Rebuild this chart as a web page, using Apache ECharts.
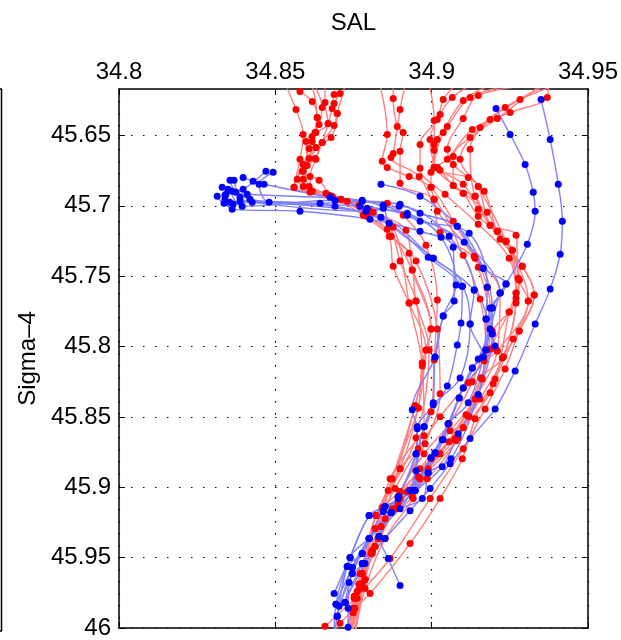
<!DOCTYPE html>
<html><head><meta charset="utf-8">
<script src="https://cdn.jsdelivr.net/npm/echarts@6/dist/echarts.min.js"></script>
<style>html,body{margin:0;padding:0;background:#fff}#c{width:621px;height:640px}</style>
</head><body><div id="c"></div>
<script>
const salTicks = [34.8, 34.85, 34.9, 34.95];
const sigTicks = [45.65, 45.7, 45.75, 45.8, 45.85, 45.9, 45.95, 46];

const redSal = [
 [34.8538,34.8566,34.8589,34.8579,34.856,34.8662,34.8771,34.8864,34.8899,34.895,34.897,34.8947,34.8874,34.8806,34.8749,34.8723],
 [34.8579,34.8618,34.8634,34.8608,34.8589,34.8589,34.871,34.8813,34.8918,34.8938,34.8998,34.8982,34.8957,34.8861,34.8787,34.8739],
 [34.863,34.865,34.864,34.8618,34.8608,34.857,34.8672,34.8781,34.887,34.8928,34.895,34.8992,34.895,34.8842,34.8778,34.8755],
 [34.8659,34.8659,34.8669,34.863,34.8598,34.8602,34.8589,34.8682,34.879,34.8877,34.8928,34.897,34.8976,34.8899,34.8822,34.8768,34.8746],
 [34.8688,34.8682,34.8698,34.8678,34.863,34.8595,34.8608,34.873,34.8858,34.8909,34.8982,34.9018,34.9008,34.8998,34.8867,34.8819,34.8762,34.8749],
 [34.8707,34.8688,34.8669,34.865,34.8627,34.8586,34.864,34.8691,34.8803,34.887,34.895,34.9018,34.9027,34.8979,34.8899,34.881,34.8752,34.8733],
 [34.8723,34.8698,34.8688,34.865,34.863,34.8611,34.8618,34.871,34.879,34.8864,34.8877,34.8928,34.8982,34.8947,34.8838,34.8778,34.8749,34.8726],
 [34.8618,34.8634,34.8627,34.8618,34.863,34.8589,34.856,34.8611,34.8768,34.8794,34.8858,34.8938,34.8998,34.897,34.8957,34.8899,34.8822,34.8768,34.8755,34.8739],
 [34.8835,34.8858,34.8842,34.8858,34.8928,34.8998,34.9069,34.9149,34.9187,34.9162,34.9101,34.8998,34.8899,34.8822,34.8768,34.8723],
 [34.8877,34.8877,34.889,34.8909,34.8899,34.8899,34.9008,34.9101,34.9155,34.9174,34.912,34.9034,34.8938,34.8838,34.8778,34.8739],
 [34.8915,34.8899,34.8877,34.887,34.896,34.9018,34.9136,34.9178,34.9194,34.9158,34.9085,34.8986,34.8899,34.8829,34.8771,34.8746],
 [34.8995,34.9008,34.9008,34.9008,34.8998,34.8998,34.9008,34.9027,34.9139,34.9219,34.921,34.9139,34.9056,34.8957,34.8851,34.8787,34.8755],
 [34.9178,34.9101,34.9037,34.9008,34.9027,34.9069,34.9101,34.9178,34.921,34.9238,34.928,34.9248,34.9197,34.911,34.9027,34.8922,34.8819,34.8762,34.8733],
 [34.9251,34.9123,34.905,34.9018,34.9008,34.9117,34.9149,34.9187,34.9258,34.927,34.9229,34.9158,34.9078,34.8963,34.8883,34.881,34.8749,34.8723],
 [34.9315,34.9149,34.9101,34.905,34.9069,34.9168,34.921,34.929,34.9328,34.928,34.9226,34.9187,34.9101,34.9018,34.8941,34.8851,34.8787,34.8755],
 [34.9347,34.921,34.9123,34.9069,34.9069,34.9139,34.9187,34.927,34.9277,34.9309,34.921,34.9168,34.9117,34.9027,34.8957,34.8883,34.8819,34.8771,34.8723],
 [34.9373,34.937,34.9251,34.913,34.905,34.9018,34.9101,34.9149,34.9238,34.927,34.9248,34.9187,34.9139,34.9059,34.8963,34.8874,34.881,34.8752,34.8739],
 [34.9075,34.9037,34.9018,34.8963,34.8963,34.9043,34.9149,34.9248,34.927,34.9229,34.9155,34.9075,34.8989,34.8893,34.8835,34.8778,34.8746],
 [34.9123,34.9066,34.9027,34.8995,34.9018,34.9101,34.9149,34.921,34.9258,34.928,34.927,34.9194,34.913,34.9056,34.8976,34.8899,34.881,34.8762,34.8739],
 [34.9395,34.9283,34.9187,34.9123,34.9139,34.9219,34.929,34.9328,34.928,34.9235,34.9171,34.9101,34.8995,34.8867,34.8755,34.8659,34.8637],
 [34.9363,34.9235,34.9155,34.9091,34.9149,34.9238,34.9309,34.9261,34.9203,34.9139,34.9098,34.9027,34.8931,34.8803,34.8707,34.8682]
];
const redSig = [
 [45.6167,45.6316,45.6493,45.667,45.6869,45.6911,45.7003,45.7145,45.7393,45.7677,45.8117,45.8421,45.8939,45.9471,45.9889,46.0045],
 [45.6188,45.6259,45.6372,45.6592,45.6755,45.6862,45.6954,45.7046,45.7174,45.7457,45.7875,45.8024,45.8436,45.9023,45.9655,46.0045],
 [45.6167,45.6301,45.6422,45.6507,45.6663,45.6812,45.6925,45.7067,45.7216,45.7337,45.7677,45.8024,45.8648,45.9144,45.9613,46.0045],
 [45.6167,45.6266,45.6415,45.6479,45.6543,45.6713,45.6812,45.6932,45.7046,45.7152,45.7691,45.8138,45.8634,45.8868,45.9201,45.969,46.0045],
 [45.6209,45.6309,45.6344,45.6514,45.6585,45.6713,45.6862,45.6968,45.6982,45.7067,45.728,45.767,45.8095,45.8464,45.8939,45.9421,45.974,46.0045],
 [45.6202,45.6273,45.6415,45.655,45.6663,45.6755,45.6819,45.6961,45.7039,45.7216,45.7393,45.7875,45.8336,45.8691,45.9031,45.9449,45.9775,46.0045],
 [45.6146,45.6344,45.6429,45.655,45.667,45.6791,45.6897,45.6954,45.7067,45.7216,45.7429,45.7691,45.8024,45.8421,45.9279,45.9613,45.9889,46.0045],
 [45.6146,45.6372,45.6479,45.6543,45.6585,45.6706,45.6869,45.6904,45.6996,45.7074,45.7166,45.7457,45.7875,45.8117,45.8436,45.8868,45.9201,45.969,45.986,46.0045],
 [45.6138,45.6493,45.6684,45.6727,45.6791,45.6869,45.711,45.7436,45.7875,45.823,45.8577,45.8797,45.9031,45.9201,45.969,46.0045],
 [45.6167,45.6238,45.6436,45.6479,45.6613,45.684,45.6954,45.7351,45.7663,45.8024,45.8499,45.8662,45.9066,45.9279,45.9613,46.0045],
 [45.6138,45.6316,45.6628,45.6656,45.6791,45.7039,45.7358,45.7578,45.7911,45.8223,45.8648,45.8939,45.908,45.9364,45.9719,46.0045],
 [45.616,45.6394,45.6564,45.6606,45.6762,45.6869,45.6954,45.7188,45.7372,45.762,45.8031,45.8372,45.8677,45.8925,45.9223,45.9655,46.0045],
 [45.6153,45.6252,45.6479,45.6727,45.6748,45.6855,45.6911,45.7046,45.7181,45.7252,45.7528,45.7755,45.8265,45.8485,45.8762,45.9031,45.9421,45.974,46.0045],
 [45.6146,45.6231,45.6436,45.6528,45.6727,45.6798,45.6862,45.7138,45.7315,45.762,45.8074,45.8223,45.8669,45.8939,45.9152,45.9449,45.986,46.0045],
 [45.6146,45.6216,45.6379,45.6599,45.6706,45.6897,45.7181,45.7429,45.7634,45.789,45.8081,45.8329,45.8577,45.8762,45.908,45.9364,45.9719,46.0045],
 [45.6146,45.6379,45.6514,45.6649,45.6855,45.6932,45.7138,45.7209,45.7514,45.7677,45.8031,45.8102,45.8258,45.8499,45.8726,45.9009,45.9293,45.9613,46.0045],
 [45.6146,45.6231,45.6337,45.6457,45.667,45.6727,45.6911,45.7074,45.7252,45.762,45.7755,45.8017,45.8372,45.8599,45.8868,45.9152,45.9471,45.9789,46.0045],
 [45.6146,45.6245,45.6387,45.6564,45.6734,45.6918,45.7131,45.7372,45.7656,45.8074,45.8372,45.8654,45.8868,45.9116,45.9364,45.9683,46.0045],
 [45.6146,45.6231,45.6351,45.6528,45.6727,45.6847,45.7025,45.7181,45.7315,45.7528,45.7691,45.789,45.8251,45.8549,45.8762,45.9031,45.9449,45.9789,46.0045],
 [45.6146,45.6245,45.6387,45.6599,45.6932,45.7237,45.7429,45.7634,45.789,45.8159,45.8443,45.8726,45.908,45.9506,45.9789,45.9988,46.0045],
 [45.6146,45.6301,45.6443,45.667,45.6862,45.7252,45.7677,45.7946,45.823,45.8514,45.8797,45.908,45.94,45.9754,45.9966,46.0045]
];
const blueSal = [
 [34.8314,34.8336,34.8355,34.8643,34.8778,34.8899,34.8963,34.9082,34.9165,34.9194,34.9194,34.9149,34.9062,34.8989,34.8947,34.887,34.88,34.8746,34.8698,34.8691],
 [34.833,34.8349,34.8394,34.8691,34.8794,34.8922,34.903,34.9078,34.9037,34.9011,34.9005,34.8954,34.895,34.8893,34.8832,34.8778,34.8736,34.8733,34.8733],
 [34.8355,34.8374,34.841,34.8778,34.8845,34.8864,34.9005,34.9098,34.9094,34.9082,34.905,34.8976,34.895,34.8931,34.8845,34.8778,34.873,34.8694,34.8688],
 [34.8368,34.8387,34.8426,34.879,34.8896,34.9056,34.9136,34.9123,34.9165,34.9101,34.9053,34.8998,34.8938,34.8851,34.88,34.8739,34.8688],
 [34.8397,34.8429,34.8464,34.8675,34.8845,34.8963,34.912,34.9178,34.9174,34.9203,34.913,34.9088,34.9037,34.8989,34.897,34.887,34.88,34.8746,34.8704],
 [34.8493,34.8448,34.848,34.8771,34.8922,34.9104,34.9219,34.9187,34.9174,34.9149,34.9085,34.9034,34.8947,34.8893,34.8832,34.8778,34.8723],
 [34.847,34.8397,34.8339,34.8362,34.8579,34.8803,34.8963,34.9069,34.9072,34.9037,34.9011,34.8938,34.8954,34.8931,34.8851,34.88,34.873,34.8698],
 [34.8339,34.8365,34.8387,34.8691,34.8864,34.8989,34.9098,34.9123,34.9091,34.9005,34.8976,34.895,34.8893,34.8845,34.8778,34.8746,34.8694],
 [34.8342,34.8362,34.8419,34.8838,34.9005,34.9136,34.9174,34.9165,34.9117,34.9053,34.9011,34.8938,34.8899,34.88,34.8739,34.8698],
 [34.8838,34.8963,34.9082,34.9165,34.9238,34.9194,34.9174,34.913,34.9088,34.9034,34.8998,34.8931,34.887,34.8832,34.8861,34.8899],
 [34.9206,34.9251,34.9299,34.9325,34.9331,34.9306,34.9238,34.9219,34.9187,34.9149,34.9101,34.9053,34.9011,34.8947,34.887,34.88,34.8746,34.8723],
 [34.935,34.9379,34.9405,34.9418,34.9411,34.9379,34.9331,34.9267,34.9203,34.9123,34.9059,34.8995,34.8931,34.8851,34.8787,34.8723]
];
const blueSig = [
 [45.6932,45.6982,45.6975,45.6982,45.6968,45.6989,45.7053,45.7145,45.7443,45.7727,45.7911,45.8343,45.8797,45.8896,45.9023,45.918,45.9364,45.957,45.9917,46.0045],
 [45.6869,45.6883,45.7003,45.6961,45.7018,45.7053,45.7223,45.7563,45.7783,45.8074,45.84,45.857,45.8762,45.9066,45.935,45.9542,45.9676,45.986,45.9995],
 [45.6819,45.6904,45.6918,45.6961,45.7018,45.7124,45.7372,45.7571,45.7833,45.7989,45.828,45.857,45.8882,45.9023,45.9173,45.9471,45.9563,45.9832,46.0045],
 [45.6819,45.694,45.6975,45.7039,45.7003,45.7216,45.7599,45.784,45.8074,45.8294,45.8549,45.879,45.9023,45.9137,45.9201,45.9499,45.9754],
 [45.6798,45.6826,45.6847,45.694,45.6996,45.711,45.7195,45.7578,45.7805,45.7996,45.8152,45.8365,45.8662,45.8896,45.908,45.918,45.9364,45.9613,45.9846],
 [45.6762,45.6847,45.6975,45.7003,45.7067,45.7259,45.762,45.7727,45.8024,45.8343,45.862,45.8854,45.9023,45.908,45.935,45.9542,45.9818],
 [45.6755,45.6883,45.6925,45.7025,45.7039,45.7096,45.7181,45.7294,45.7677,45.7783,45.8074,45.845,45.8584,45.9023,45.9137,45.9201,45.9563,45.9917],
 [45.6954,45.6989,45.6968,45.7003,45.7124,45.7365,45.7571,45.784,45.8223,45.8414,45.857,45.8762,45.9066,45.9173,45.9471,45.957,45.9832],
 [45.6918,45.6897,45.6954,45.7081,45.7372,45.7599,45.7805,45.8074,45.84,45.8549,45.8755,45.9023,45.9152,45.9364,45.9499,45.9917],
 [45.6847,45.6932,45.7145,45.7443,45.7556,45.7727,45.8024,45.8152,45.8365,45.8662,45.879,45.9023,45.918,45.935,45.9506,45.9698],
 [45.6309,45.6493,45.6706,45.6904,45.7039,45.7273,45.7556,45.762,45.7875,45.8088,45.8294,45.8549,45.8755,45.9023,45.918,45.9364,45.9613,45.9818],
 [45.6245,45.6528,45.6847,45.711,45.7344,45.7592,45.784,45.8173,45.8443,45.8654,45.8833,45.9009,45.9166,45.9364,45.9542,45.9818]
];

const FONT = "'Liberation Sans', Arial, Helvetica, sans-serif";
function mkSeries(salArr, sigArr, lineColor, dotColor) {
  return salArr.map((s, i) => ({
    type: 'line',
    data: s.map((v, j) => [v, sigArr[i][j]]),
    smooth: 0.35,
    clip: true,
    symbol: 'circle',
    symbolSize: 7,
    showAllSymbol: true,
    lineStyle: { color: lineColor, width: 1.4 },
    itemStyle: { color: dotColor },
    emphasis: { disabled: true },
    silent: true
  }));
}
const series = [].concat(
  mkSeries(redSal, redSig, '#ff8080', '#ff0000'),
  mkSeries(blueSal, blueSig, '#8080ff', '#0000ff')
);

const chart = echarts.init(document.getElementById('c'), null, { renderer: 'canvas' });
const gridLine = { show: true, lineStyle: { color: '#000', width: 1.2, type: [1.5, 10.5] } };
chart.setOption({
  animation: false,
  backgroundColor: '#fff',
  textStyle: { fontFamily: FONT },
  grid: { left: 119, right: 33, top: 89, bottom: 10, containLabel: false },
  xAxis: [{
    type: 'value', position: 'top', min: 34.8, max: 34.95, interval: 0.05,
    name: 'SAL', nameLocation: 'middle', nameGap: 54,
    nameTextStyle: { fontSize: 24, color: '#000', fontFamily: FONT },
    axisLine: { show: true, lineStyle: { color: '#000', width: 1.5 } },
    axisTick: { show: true, inside: true, length: 6, lineStyle: { color: '#000' } },
    axisLabel: { fontSize: 24, color: '#000', margin: 5, fontFamily: FONT, showMinLabel: true, showMaxLabel: true },
    splitLine: gridLine
  }, {
    type: 'value', position: 'bottom', min: 34.8, max: 34.95, interval: 0.05,
    axisLine: { show: true, onZero: false, lineStyle: { color: '#000', width: 1.5 } },
    axisTick: { show: true, inside: true, length: 6, lineStyle: { color: '#000' } },
    axisLabel: { show: false }, splitLine: { show: false }
  }],
  yAxis: [{
    type: 'value', inverse: true, min: 45.617, max: 46,
    name: 'Sigma–4', nameLocation: 'middle', nameGap: 78, nameRotate: 90,
    nameTextStyle: { fontSize: 24, color: '#000', fontFamily: FONT },
    axisLine: { show: true, lineStyle: { color: '#000', width: 1.5 } },
    axisTick: { show: true, inside: true, length: 6, customValues: sigTicks, lineStyle: { color: '#000' } },
    axisLabel: { fontSize: 24, color: '#000', margin: 8, fontFamily: FONT, customValues: sigTicks },
    splitLine: gridLine
  }, {
    type: 'value', inverse: true, min: 45.617, max: 46, position: 'right',
    axisLine: { show: true, onZero: false, lineStyle: { color: '#000', width: 1.5 } },
    axisTick: { show: true, inside: true, length: 6, customValues: sigTicks, lineStyle: { color: '#000' } },
    axisLabel: { show: false }, splitLine: { show: false }
  }],
  graphic: [
    { type: 'line', shape: { x1: 1.5, y1: 89, x2: 1.5, y2: 631 }, style: { stroke: '#000', lineWidth: 1.5 } },
    { type: 'line', shape: { x1: 0, y1: 89, x2: 2, y2: 89 }, style: { stroke: '#000', lineWidth: 1.5 } },
    { type: 'line', shape: { x1: 0, y1: 631, x2: 2, y2: 631 }, style: { stroke: '#000', lineWidth: 1.5 } }
  ],
  series: series
});
</script>
</body></html>
